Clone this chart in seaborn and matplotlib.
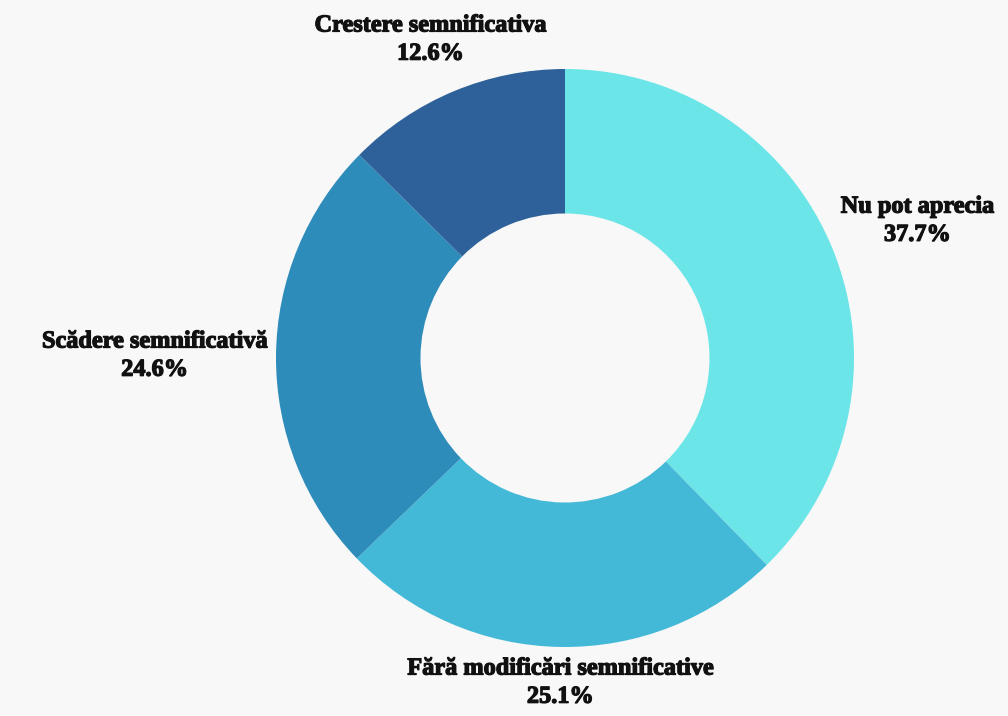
import numpy as np
import matplotlib
matplotlib.use("Agg")
import matplotlib.pyplot as plt
import matplotlib.patheffects as pe
import seaborn as sns

categories = ["Nu pot aprecia", "Fără modificări semnificative",
              "Scădere semnificativă", "Crestere semnificativa"]
values = [37.7, 25.1, 24.6, 12.6]
colors = ["#6BE5E8", "#43B9D7", "#2E8CBB", "#2E6199"]

sns.set_theme(style="white")
plt.rcParams['font.family'] = ['Liberation Serif', 'DejaVu Serif']

W, H = 1008, 716
bg = "#F8F8F8"
fig = plt.figure(figsize=(W / 100, H / 100), dpi=100, facecolor=bg)
ax = fig.add_axes([0, 0, 1, 1])
ax.set_facecolor(bg)

cx, cy, R = 565, 358, 289
wedges, _ = ax.pie(values, colors=colors, startangle=90, counterclock=False,
                   center=(cx, cy), radius=R, frame=True,
                   wedgeprops=dict(width=R * 0.5, edgecolor="none", linewidth=0))
ax.set_xlim(0, W)
ax.set_ylim(0, H)
ax.set_aspect("equal")
ax.axis("off")

for w, cat, v in zip(wedges, categories, values):
    ang = np.deg2rad((w.theta1 + w.theta2) / 2)
    c, s = np.cos(ang), np.sin(ang)
    dx = 0
    if abs(s) > abs(c):
        r = 1.1 * R if s > 0 else 1.04 * R
        ha = "center"
        va = "bottom" if s > 0 else "top"
        if s > 0:
            dx = -12
    else:
        r = 1.03 * R
        ha = "left" if c > 0 else "right"
        va = "center" if abs(s) < 0.1 else ("bottom" if s > 0 else "top")
    x, y = cx + r * c + dx, cy + r * s
    ax.text(x, y, f"{cat}\n{v:.1f}%", ha=ha, va=va, multialignment="center",
            fontsize=17.5, fontweight="bold", color="#111111", linespacing=1.45,
            path_effects=[pe.withStroke(linewidth=0.9, foreground="#111111")])

fig.savefig("out.png", dpi=100, facecolor=bg)
